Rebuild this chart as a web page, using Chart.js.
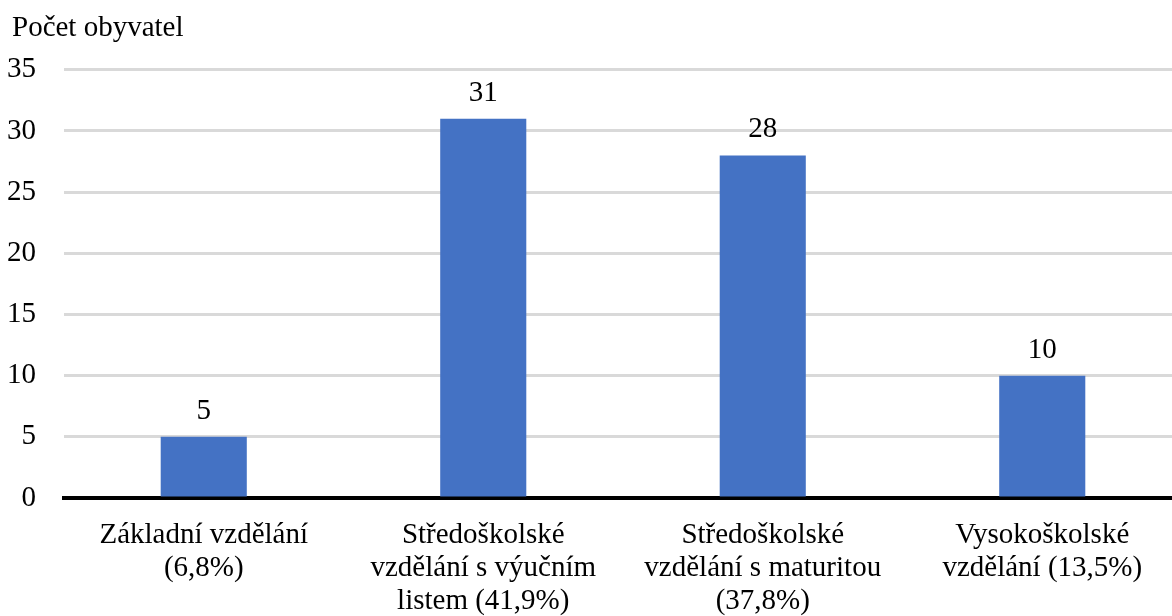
<!DOCTYPE html>
<html>
<head>
<meta charset="utf-8">
<script src="https://cdn.jsdelivr.net/npm/chart.js@4/dist/chart.umd.min.js"></script>
<style>
body{margin:0;overflow:hidden;background:#fff;}
#wrap{width:1182px;height:616px;}
</style>
</head>
<body>
<div id="wrap"><canvas id="bar-chart"></canvas></div>
<script>
//categories with percent share, split in lines like the original
var labels=[
    ["Základní vzdělání","(6,8%)"],
    ["Středoškolské","vzdělání s výučním","listem (41,9%)"],
    ["Středoškolské","vzdělání s maturitou","(37,8%)"],
    ["Vysokoškolské","vzdělání (13,5%)"]
];
//number of inhabitants
var counts=[5,31,28,10];
var yTicks=[0,5,10,15,20,25,30,35];

var serif="'Liberation Serif','Times New Roman',serif";

//draws the value above every bar
var valueLabels={
    id:'valueLabels',
    afterLayout:function(chart){
        //title sits a bit right of the tick labels
        if(chart.titleBlock){
            chart.titleBlock.left=12;
        }
    },
    afterDatasetsDraw:function(chart){
        var ctx=chart.ctx;
        var meta=chart.getDatasetMeta(0);
        ctx.save();
        ctx.font="29px "+serif;
        ctx.fillStyle="#000";
        ctx.textAlign="center";
        ctx.textBaseline="alphabetic";
        for(var i=0;i<meta.data.length;i++){
            var bar=meta.data[i];
            ctx.fillText(counts[i],bar.x,bar.y-18);
        }
        ctx.restore();
    }
};

Chart.defaults.font.family=serif;
Chart.defaults.color="#000";

var plot=new Chart(document.getElementById("bar-chart"),{
    type:'bar',
    data:{
        labels:labels,
        datasets:[{
            label:"Počet obyvatel",
            data:counts,
            backgroundColor:"#4472C4",
            categoryPercentage:1,
            barPercentage:0.308
        }]
    },
    options:{
        responsive:true,
        maintainAspectRatio:false,
        animation:false,
        layout:{padding:{left:2,right:0,top:11,bottom:0}},
        plugins:{
            legend:{display:false},
            tooltip:{enabled:false},
            title:{
                display:true,
                text:"Počet obyvatel",
                align:'start',
                font:{size:29,weight:'normal',family:serif},
                color:"#000",
                padding:{top:0,bottom:24}
            }
        },
        scales:{
            x:{
                grid:{display:false},
                border:{display:true,color:"#000",width:4},
                ticks:{font:{size:29,family:serif,lineHeight:1.14},color:"#000",padding:13,maxRotation:0,autoSkip:false},
                afterFit:function(axis){
                    axis.paddingLeft=0;
                    axis.paddingRight=0;
                    axis.height=118;
                }
            },
            y:{
                min:0,
                max:35,
                afterBuildTicks:function(axis){
                    axis.ticks=yTicks.map(function(v){return {value:v};});
                },
                grid:{color:"#d9d9d9",lineWidth:3,drawTicks:false},
                border:{display:false},
                ticks:{font:{size:29,family:serif},color:"#000",padding:28},
                afterFit:function(axis){
                    axis.width=62;
                }
            }
        }
    },
    plugins:[valueLabels]
});
</script>
</body>
</html>
